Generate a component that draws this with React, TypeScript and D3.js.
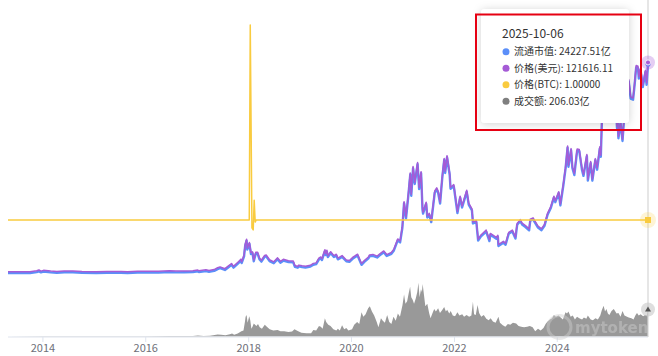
import React from 'react';
import * as d3 from 'd3';

const W = 658;
const H = 356;

const xTickYears = [2014, 2016, 2018, 2020, 2022, 2024];

// [date, price USD]
const priceSeries: [string, number][] = [
  ['2013-04-28', 135], ['2013-07-05', 80], ['2013-10-01', 125], ['2013-11-18', 700], ['2013-12-04', 1150], ['2013-12-18', 520],
  ['2014-01-05', 950], ['2014-02-25', 530], ['2014-04-10', 360], ['2014-06-01', 650], ['2014-08-01', 590], ['2014-10-05', 320],
  ['2015-01-14', 180], ['2015-04-01', 245], ['2015-07-10', 285], ['2015-08-25', 210], ['2015-11-04', 450], ['2015-12-15', 450],
  ['2016-02-01', 370], ['2016-04-01', 415], ['2016-06-17', 750], ['2016-08-02', 540], ['2016-10-01', 615], ['2016-12-01', 750],
  ['2017-01-04', 1130], ['2017-01-12', 780], ['2017-03-03', 1260], ['2017-03-25', 930], ['2017-05-01', 1420], ['2017-05-25', 2450],
  ['2017-06-12', 2950], ['2017-07-16', 1930], ['2017-08-08', 3400], ['2017-09-01', 4900], ['2017-09-15', 3300], ['2017-10-20', 5990],
  ['2017-11-08', 7450], ['2017-11-12', 5950], ['2017-11-29', 9900], ['2017-12-07', 16000], ['2017-12-17', 19000], ['2017-12-22', 13800],
  ['2018-01-06', 17100], ['2018-01-17', 11200], ['2018-01-28', 11700], ['2018-02-06', 7000], ['2018-02-20', 11400], ['2018-03-05', 11500],
  ['2018-03-18', 8200], ['2018-04-01', 6800], ['2018-04-24', 9600], ['2018-05-05', 9850], ['2018-05-29', 7100], ['2018-06-28', 5900],
  ['2018-07-25', 8200], ['2018-08-14', 6200], ['2018-09-04', 7350], ['2018-10-10', 6550], ['2018-11-13', 6350], ['2018-11-25', 3800],
  ['2018-12-15', 3250], ['2018-12-24', 4000],
  ['2019-01-15', 3600], ['2019-02-08', 3400], ['2019-03-15', 3900], ['2019-04-05', 5000], ['2019-04-25', 5300], ['2019-05-14', 8000],
  ['2019-05-28', 8700], ['2019-06-05', 7700], ['2019-06-26', 12900], ['2019-07-02', 10600], ['2019-07-10', 12600], ['2019-07-17', 9400],
  ['2019-08-06', 11800], ['2019-08-29', 9500], ['2019-09-15', 10300], ['2019-09-26', 8100], ['2019-10-26', 9500], ['2019-11-25', 7000],
  ['2019-12-17', 6650],
  ['2020-01-14', 8800], ['2020-02-13', 10300], ['2020-03-12', 4900], ['2020-04-01', 6600], ['2020-04-30', 8700], ['2020-05-08', 9900],
  ['2020-06-01', 10200], ['2020-07-01', 9200], ['2020-07-27', 11000], ['2020-08-17', 12200], ['2020-09-07', 10100], ['2020-10-10', 11300],
  ['2020-10-28', 13300], ['2020-11-24', 19200], ['2020-12-11', 18000], ['2020-12-27', 26500],
  ['2021-01-08', 40800], ['2021-01-22', 32000], ['2021-02-09', 46500], ['2021-02-21', 57500], ['2021-02-28', 45100], ['2021-03-13', 61200],
  ['2021-03-25', 52000], ['2021-04-14', 63500], ['2021-04-25', 49000], ['2021-05-09', 58200], ['2021-05-19', 37000], ['2021-05-23', 34700],
  ['2021-06-14', 40500], ['2021-06-22', 32500], ['2021-07-06', 34000], ['2021-07-20', 29800], ['2021-08-14', 47000], ['2021-08-28', 48800],
  ['2021-09-07', 46900], ['2021-09-21', 40600], ['2021-10-06', 55300], ['2021-10-20', 65900], ['2021-10-27', 58400], ['2021-11-09', 67500],
  ['2021-11-28', 57200], ['2021-12-04', 49200], ['2021-12-27', 50700],
  ['2022-01-22', 35100], ['2022-02-10', 44000], ['2022-02-24', 38300], ['2022-03-29', 47400], ['2022-04-12', 40000], ['2022-05-05', 36600],
  ['2022-05-12', 29000], ['2022-06-05', 29900], ['2022-06-18', 19000], ['2022-07-08', 21500], ['2022-08-14', 24300], ['2022-09-06', 18800],
  ['2022-09-13', 22400], ['2022-10-25', 20100], ['2022-11-05', 21300], ['2022-11-09', 15900], ['2022-12-14', 17800], ['2022-12-30', 16600],
  ['2023-01-21', 23000], ['2023-02-16', 24300], ['2023-03-10', 20200], ['2023-03-22', 28200], ['2023-04-13', 30400], ['2023-04-26', 28400],
  ['2023-05-20', 26900], ['2023-06-15', 25000], ['2023-06-23', 30700], ['2023-07-13', 31400], ['2023-08-17', 26600], ['2023-09-11', 25100],
  ['2023-10-02', 27600], ['2023-10-24', 34100], ['2023-11-15', 37800], ['2023-12-08', 44000], ['2023-12-18', 41400],
  ['2024-01-11', 46600], ['2024-01-23', 39500], ['2024-02-14', 51800], ['2024-02-29', 61200], ['2024-03-14', 73100], ['2024-03-20', 62000],
  ['2024-04-08', 71600], ['2024-04-17', 61300], ['2024-05-01', 57200], ['2024-05-21', 71400], ['2024-06-05', 71100], ['2024-06-24', 60300],
  ['2024-07-05', 56700], ['2024-07-29', 68200], ['2024-08-05', 53900], ['2024-08-25', 64100], ['2024-09-06', 53900], ['2024-09-27', 65800],
  ['2024-10-10', 60300], ['2024-10-29', 72700], ['2024-11-05', 67800], ['2024-11-13', 90000], ['2024-11-22', 98900], ['2024-11-26', 91900],
  ['2024-12-05', 98800], ['2024-12-17', 106100], ['2024-12-30', 92700],
  ['2025-01-07', 96900], ['2025-01-13', 94600], ['2025-01-22', 106000], ['2025-02-03', 97600], ['2025-02-20', 98000], ['2025-02-28', 84400],
  ['2025-03-02', 94300], ['2025-03-10', 78600], ['2025-03-25', 87500], ['2025-04-08', 77000], ['2025-04-22', 93400], ['2025-05-12', 102800],
  ['2025-05-22', 111700], ['2025-06-05', 101600], ['2025-06-22', 101000], ['2025-07-03', 109600], ['2025-07-14', 119800], ['2025-07-27', 119400],
  ['2025-08-02', 113300], ['2025-08-14', 118300], ['2025-08-30', 108400], ['2025-09-18', 117100], ['2025-09-26', 109700], ['2025-10-06', 121616.11],
];

// [date, circulating market cap, 亿]
const mcapSeries: [string, number][] = [
  ['2013-04-28', 27], ['2013-07-05', 16], ['2013-10-01', 25], ['2013-11-18', 139], ['2013-12-04', 229], ['2013-12-18', 104],
  ['2014-01-05', 189], ['2014-02-25', 106], ['2014-04-10', 72], ['2014-06-01', 129], ['2014-08-01', 118], ['2014-10-05', 64],
  ['2015-01-14', 36], ['2015-04-01', 49], ['2015-07-10', 57], ['2015-08-25', 42], ['2015-11-04', 90], ['2015-12-15', 90],
  ['2016-02-01', 74], ['2016-04-01', 83], ['2016-06-17', 149], ['2016-08-02', 108], ['2016-10-01', 123], ['2016-12-01', 149],
  ['2017-01-04', 225], ['2017-01-12', 155], ['2017-03-03', 251], ['2017-03-25', 185], ['2017-05-01', 283], ['2017-05-25', 488],
  ['2017-06-12', 588], ['2017-07-16', 384], ['2017-08-08', 677], ['2017-09-01', 976], ['2017-09-15', 657], ['2017-10-20', 1193],
  ['2017-11-08', 1484], ['2017-11-12', 1185], ['2017-11-29', 1972], ['2017-12-07', 3187], ['2017-12-17', 3785], ['2017-12-22', 2749],
  ['2018-01-06', 3406], ['2018-01-17', 2231], ['2018-01-28', 2331], ['2018-02-06', 1394], ['2018-02-20', 2271], ['2018-03-05', 2291],
  ['2018-03-18', 1633], ['2018-04-01', 1355], ['2018-04-24', 1912], ['2018-05-05', 1962], ['2018-05-29', 1414], ['2018-06-28', 1175],
  ['2018-07-25', 1633], ['2018-08-14', 1235], ['2018-09-04', 1464], ['2018-10-10', 1305], ['2018-11-13', 1265], ['2018-11-25', 757],
  ['2018-12-15', 647], ['2018-12-24', 797],
  ['2019-01-15', 717], ['2019-02-08', 677], ['2019-03-15', 777], ['2019-04-05', 996], ['2019-04-25', 1056], ['2019-05-14', 1594],
  ['2019-05-28', 1733], ['2019-06-05', 1534], ['2019-06-26', 2570], ['2019-07-02', 2112], ['2019-07-10', 2510], ['2019-07-17', 1872],
  ['2019-08-06', 2351], ['2019-08-29', 1892], ['2019-09-15', 2052], ['2019-09-26', 1614], ['2019-10-26', 1892], ['2019-11-25', 1394],
  ['2019-12-17', 1325],
  ['2020-01-14', 1753], ['2020-02-13', 2052], ['2020-03-12', 976], ['2020-04-01', 1315], ['2020-04-30', 1733], ['2020-05-08', 1972],
  ['2020-06-01', 2032], ['2020-07-01', 1833], ['2020-07-27', 2191], ['2020-08-17', 2430], ['2020-09-07', 2012], ['2020-10-10', 2251],
  ['2020-10-28', 2649], ['2020-11-24', 3825], ['2020-12-11', 3586], ['2020-12-27', 5279],
  ['2021-01-08', 8127], ['2021-01-22', 6374], ['2021-02-09', 9263], ['2021-02-21', 11454], ['2021-02-28', 8984], ['2021-03-13', 12191],
  ['2021-03-25', 10358], ['2021-04-14', 12649], ['2021-04-25', 9761], ['2021-05-09', 11593], ['2021-05-19', 7370], ['2021-05-23', 6912],
  ['2021-06-14', 8068], ['2021-06-22', 6474], ['2021-07-06', 6773], ['2021-07-20', 5936], ['2021-08-14', 9362], ['2021-08-28', 9721],
  ['2021-09-07', 9342], ['2021-09-21', 8088], ['2021-10-06', 11016], ['2021-10-20', 13127], ['2021-10-27', 11633], ['2021-11-09', 13446],
  ['2021-11-28', 11394], ['2021-12-04', 9801], ['2021-12-27', 10099],
  ['2022-01-22', 6992], ['2022-02-10', 8765], ['2022-02-24', 7629], ['2022-03-29', 9442], ['2022-04-12', 7968], ['2022-05-05', 7291],
  ['2022-05-12', 5777], ['2022-06-05', 5956], ['2022-06-18', 3785], ['2022-07-08', 4283], ['2022-08-14', 4841], ['2022-09-06', 3745],
  ['2022-09-13', 4462], ['2022-10-25', 4004], ['2022-11-05', 4243], ['2022-11-09', 3167], ['2022-12-14', 3546], ['2022-12-30', 3307],
  ['2023-01-21', 4582], ['2023-02-16', 4841], ['2023-03-10', 4024], ['2023-03-22', 5617], ['2023-04-13', 6056], ['2023-04-26', 5657],
  ['2023-05-20', 5358], ['2023-06-15', 4980], ['2023-06-23', 6115], ['2023-07-13', 6255], ['2023-08-17', 5299], ['2023-09-11', 5000],
  ['2023-10-02', 5498], ['2023-10-24', 6793], ['2023-11-15', 7530], ['2023-12-08', 8765], ['2023-12-18', 8247],
  ['2024-01-11', 9283], ['2024-01-23', 7868], ['2024-02-14', 10319], ['2024-02-29', 12191], ['2024-03-14', 14562], ['2024-03-20', 12350],
  ['2024-04-08', 14263], ['2024-04-17', 12211], ['2024-05-01', 11394], ['2024-05-21', 14223], ['2024-06-05', 14163], ['2024-06-24', 12012],
  ['2024-07-05', 11295], ['2024-07-29', 13585], ['2024-08-05', 10737], ['2024-08-25', 12769], ['2024-09-06', 10737], ['2024-09-27', 13107],
  ['2024-10-10', 12012], ['2024-10-29', 14482], ['2024-11-05', 13506], ['2024-11-13', 17928], ['2024-11-22', 19701], ['2024-11-26', 18306],
  ['2024-12-05', 19681], ['2024-12-17', 21135], ['2024-12-30', 18466],
  ['2025-01-07', 19302], ['2025-01-13', 18844], ['2025-01-22', 21115], ['2025-02-03', 19442], ['2025-02-20', 19522], ['2025-02-28', 16812],
  ['2025-03-02', 18785], ['2025-03-10', 15657], ['2025-03-25', 17430], ['2025-04-08', 15338], ['2025-04-22', 18605], ['2025-05-12', 20478],
  ['2025-05-22', 22251], ['2025-06-05', 20239], ['2025-06-22', 20119], ['2025-07-03', 21832], ['2025-07-14', 23864], ['2025-07-27', 23784],
  ['2025-08-02', 22569], ['2025-08-14', 23565], ['2025-08-30', 21593], ['2025-09-18', 23326], ['2025-09-26', 21852], ['2025-10-06', 24227.51],
];

// [date, price in BTC]
const btcSeries: [string, number][] = [
  ['2013-04-28', 1], ['2018-01-05', 1], ['2018-01-12', 4.75], ['2018-01-24', 0.85], ['2018-02-02', 0.81],
  ['2018-02-09', 1.38], ['2018-02-16', 0.96], ['2018-02-23', 1], ['2025-10-06', 1],
];

// [date, volume 亿]
const volumeSeries: [string, number][] = [
  ['2013-04-28', 0.5], ['2014-01-01', 1], ['2014-06-01', 1], ['2015-01-01', 1], ['2015-06-01', 1], ['2016-01-01', 1.5],
  ['2016-06-15', 3], ['2016-12-01', 3], ['2017-01-05', 8], ['2017-02-15', 4], ['2017-04-01', 6], ['2017-05-25', 15],
  ['2017-06-20', 14], ['2017-07-20', 10], ['2017-08-20', 18], ['2017-09-05', 22], ['2017-09-20', 14], ['2017-10-15', 22],
  ['2017-11-10', 40], ['2017-11-25', 45], ['2017-12-05', 110], ['2017-12-10', 150], ['2017-12-17', 165], ['2017-12-24', 105],
  ['2018-01-05', 155], ['2018-01-12', 125], ['2018-01-20', 60], ['2018-01-28', 75], ['2018-02-06', 100], ['2018-02-15', 90],
  ['2018-02-25', 80], ['2018-03-08', 95], ['2018-03-20', 70], ['2018-04-05', 60], ['2018-04-25', 90], ['2018-05-10', 75],
  ['2018-05-30', 55], ['2018-06-25', 45], ['2018-07-25', 50], ['2018-08-15', 40], ['2018-09-10', 40], ['2018-10-10', 35],
  ['2018-11-05', 38], ['2018-11-22', 55], ['2018-12-15', 42],
  ['2019-01-10', 28], ['2019-02-15', 25], ['2019-03-20', 24], ['2019-04-05', 50], ['2019-04-25', 45], ['2019-05-15', 80],
  ['2019-05-28', 75], ['2019-06-10', 60], ['2019-06-26', 140], ['2019-07-05', 110], ['2019-07-20', 90], ['2019-08-05', 80],
  ['2019-08-25', 55], ['2019-09-15', 45], ['2019-09-26', 60], ['2019-10-10', 45], ['2019-10-26', 85], ['2019-11-10', 55],
  ['2019-11-25', 65], ['2019-12-10', 45],
  ['2020-01-05', 55], ['2020-01-20', 90], ['2020-02-10', 110], ['2020-02-25', 95], ['2020-03-12', 185], ['2020-03-25', 150],
  ['2020-04-10', 170], ['2020-04-28', 215], ['2020-05-10', 230], ['2020-05-25', 190], ['2020-06-10', 160], ['2020-06-28', 110],
  ['2020-07-10', 70], ['2020-07-28', 140], ['2020-08-10', 120], ['2020-08-25', 105], ['2020-09-10', 165], ['2020-09-25', 110],
  ['2020-10-10', 95], ['2020-10-25', 150], ['2020-11-10', 120], ['2020-11-25', 175], ['2020-12-10', 150], ['2020-12-28', 240],
  ['2021-01-08', 320], ['2021-01-18', 250], ['2021-01-30', 270], ['2021-02-10', 330], ['2021-02-20', 380], ['2021-02-28', 300],
  ['2021-03-10', 280], ['2021-03-20', 250], ['2021-04-01', 290], ['2021-04-12', 340], ['2021-04-20', 410], ['2021-04-28', 300],
  ['2021-05-08', 360], ['2021-05-15', 340], ['2021-05-20', 400], ['2021-05-28', 330], ['2021-06-08', 230], ['2021-06-22', 250],
  ['2021-07-05', 180], ['2021-07-15', 140], ['2021-07-28', 175], ['2021-08-10', 210], ['2021-08-22', 190], ['2021-09-07', 215],
  ['2021-09-20', 180], ['2021-10-05', 200], ['2021-10-20', 225], ['2021-11-01', 190], ['2021-11-10', 205], ['2021-11-25', 175],
  ['2021-12-05', 195], ['2021-12-20', 160],
  ['2022-01-05', 155], ['2022-01-22', 185], ['2022-02-05', 160], ['2022-02-25', 170], ['2022-03-10', 150], ['2022-03-28', 165],
  ['2022-04-15', 150], ['2022-05-01', 160], ['2022-05-12', 265], ['2022-05-20', 170], ['2022-06-01', 165], ['2022-06-14', 240],
  ['2022-06-25', 180], ['2022-07-10', 150], ['2022-07-28', 165], ['2022-08-15', 135], ['2022-09-01', 125], ['2022-09-15', 140],
  ['2022-10-01', 115], ['2022-10-20', 105], ['2022-11-09', 150], ['2022-11-20', 105], ['2022-12-10', 85], ['2022-12-28', 75],
  ['2023-01-15', 95], ['2023-02-01', 90], ['2023-02-20', 105], ['2023-03-15', 100], ['2023-04-01', 80], ['2023-04-20', 75],
  ['2023-05-10', 70], ['2023-06-01', 75], ['2023-06-20', 80], ['2023-07-10', 70], ['2023-07-28', 40], ['2023-08-17', 60],
  ['2023-09-05', 45], ['2023-09-25', 65], ['2023-10-10', 95], ['2023-10-24', 115], ['2023-11-10', 130], ['2023-11-25', 140],
  ['2023-12-08', 165], ['2023-12-22', 150],
  ['2024-01-10', 160], ['2024-01-25', 145], ['2024-02-10', 130], ['2024-02-28', 185], ['2024-03-10', 175], ['2024-03-20', 190],
  ['2024-04-05', 150], ['2024-04-20', 160], ['2024-05-05', 130], ['2024-05-20', 150], ['2024-06-05', 140], ['2024-06-25', 130],
  ['2024-07-08', 145], ['2024-07-25', 135], ['2024-08-05', 160], ['2024-08-25', 130], ['2024-09-10', 125], ['2024-09-28', 140],
  ['2024-10-15', 130], ['2024-11-01', 160], ['2024-11-12', 200], ['2024-11-25', 235], ['2024-12-05', 190], ['2024-12-15', 210],
  ['2024-12-25', 175],
  ['2025-01-05', 165], ['2025-01-20', 195], ['2025-02-05', 210], ['2025-02-25', 175], ['2025-03-10', 180], ['2025-03-25', 150],
  ['2025-04-08', 195], ['2025-04-22', 160], ['2025-05-10', 150], ['2025-05-22', 145], ['2025-06-10', 140], ['2025-06-25', 130],
  ['2025-07-10', 165], ['2025-07-20', 180], ['2025-08-01', 160], ['2025-08-15', 170], ['2025-09-01', 155], ['2025-09-15', 165],
  ['2025-09-28', 160], ['2025-10-06', 206.03],
];

const tooltipDate = '2025-10-06';
const tooltipRows = [
  { label: '流通市值', value: '24227.51亿', color: '#5b8ff9' },
  { label: '价格(美元)', value: '121616.11', color: '#a55bd6' },
  { label: '价格(BTC)', value: '1.00000', color: '#f9cb3f' },
  { label: '成交额', value: '206.03亿', color: '#7f7f7f' },
];

const BLUE = '#5b8ff9';
const PURPLE = '#a55bd6';
const YELLOW = '#f9cb3f';
const VOL = '#999999';
const FONT = "'Noto Sans CJK SC', 'Noto Sans', sans-serif";

const parse = d3.timeParse('%Y-%m-%d');

export default function App() {
  const x = d3
    .scaleTime()
    .domain([parse('2013-04-28') as Date, parse('2025-10-06') as Date])
    .range([8, 648]);
  const yPrice = d3.scaleLinear().domain([0, 130000]).range([272, 48]);
  const yMcap = d3.scaleLinear().domain([0, 26000]).range([273.3, 49]);
  const yBtc = d3.scaleLinear().domain([0, 5]).range([272, 12]);
  const yVol = d3.scaleLinear().domain([0, 500]).range([336.5, 271]);

  const line = (ys: d3.ScaleLinear<number, number>) =>
    d3
      .line<[string, number]>()
      .x((d) => x(parse(d[0]) as Date))
      .y((d) => ys(d[1]));

  const volArea = d3
    .area<[string, number]>()
    .x((d) => x(parse(d[0]) as Date))
    .y0(yVol(0))
    .y1((d) => yVol(d[1]));

  const ticks = xTickYears.map((yr) => ({ yr, px: x(new Date(yr, 0, 1)) }));
  const endX = x(parse('2025-10-06') as Date);
  const lastP = priceSeries[priceSeries.length - 1][1];
  const lastM = mcapSeries[mcapSeries.length - 1][1];
  const lastB = btcSeries[btcSeries.length - 1][1];
  const lastV = volumeSeries[volumeSeries.length - 1][1];

  const tipX = 481;
  const tipY = 9;

  return (
    <div style={{ position: 'fixed', left: 0, top: 0, width: W, height: H, background: '#fff' }}>
      <svg width={W} height={H} style={{ display: 'block', fontFamily: FONT }}>
        <defs>
          <filter id="tipShadow" x="-20%" y="-20%" width="140%" height="140%">
            <feDropShadow dx="0" dy="1" stdDeviation="4" floodColor="#000" floodOpacity="0.18" />
          </filter>
        </defs>
        <rect x={0} y={0} width={W} height={H} fill="#fff" />

        {/* volume area */}
        <path d={volArea(volumeSeries) || ''} fill={VOL} stroke="none" />

        {/* x axis */}
        <line x1={8} x2={648} y1={337} y2={337} stroke="#dfe4ee" strokeWidth={1} />
        {ticks.map((t) => (
          <g key={t.yr}>
            <line x1={t.px} x2={t.px} y1={337} y2={342} stroke="#dfe4ee" strokeWidth={1} />
            <text x={t.px} y={352} textAnchor="middle" fontSize={11} fill="#6e7079">
              {t.yr}
            </text>
          </g>
        ))}

        {/* crosshair */}
        <line x1={endX} x2={endX} y1={0} y2={337} stroke="#d6d6d6" strokeWidth={1.2} />

        {/* lines */}
        <path d={line(yMcap)(mcapSeries) || ''} fill="none" stroke={BLUE} strokeWidth={2.4} strokeLinejoin="round" />
        <path d={line(yPrice)(priceSeries) || ''} fill="none" stroke={PURPLE} strokeWidth={1.5} strokeLinejoin="round" />
        <path d={line(yBtc)(btcSeries) || ''} fill="none" stroke={YELLOW} strokeWidth={1.5} strokeLinejoin="round" />

        {/* watermark */}
        <g opacity={0.45}>
          <circle cx={559.5} cy={327} r={11.5} fill="none" stroke="#cfcfcf" strokeWidth={3} />
          <text x={575} y={333} fontSize={15} fontWeight={700} fill="#cfcfcf" fontFamily="'DejaVu Sans', sans-serif">
            mytoken
          </text>
        </g>

        {/* end markers */}
        <circle cx={endX} cy={yMcap(lastM)} r={2.5} fill={BLUE} />
        <circle cx={endX} cy={yPrice(lastP)} r={7} fill={PURPLE} opacity={0.3} />
        <circle cx={endX} cy={yPrice(lastP)} r={2.5} fill={PURPLE} stroke="#fff" strokeWidth={0.8} />
        <circle cx={endX} cy={yBtc(lastB)} r={8} fill={YELLOW} opacity={0.22} />
        <rect x={endX - 3} y={yBtc(lastB) - 3} width={6} height={6} fill={YELLOW} />
        <circle cx={endX} cy={yVol(lastV)} r={7} fill="#c8c8c8" opacity={0.6} />
        <path d={`M${endX},${yVol(lastV) - 3} L${endX + 3},${yVol(lastV) + 2} L${endX - 3},${yVol(lastV) + 2} Z`} fill="#555" />

        {/* tooltip */}
        <rect x={tipX} y={tipY} width={148} height={114} rx={4} fill="#fff" filter="url(#tipShadow)" />
        <text x={502} y={37.5} fontSize={12} fill="#333">
          {tooltipDate}
        </text>
        {tooltipRows.map((r, i) => {
          const cy = 51.8 + i * 16.5;
          return (
            <g key={r.label}>
              <circle cx={506} cy={cy} r={3.5} fill={r.color} />
              <text x={514} y={cy + 3.5} fontSize={10} fill="#333">
                {r.label}: {r.value}
              </text>
            </g>
          );
        })}

        {/* red annotation box */}
        <rect x={476} y={14.5} width={165} height={115.5} fill="none" stroke="#e60012" strokeWidth={2} />
      </svg>
    </div>
  );
}
